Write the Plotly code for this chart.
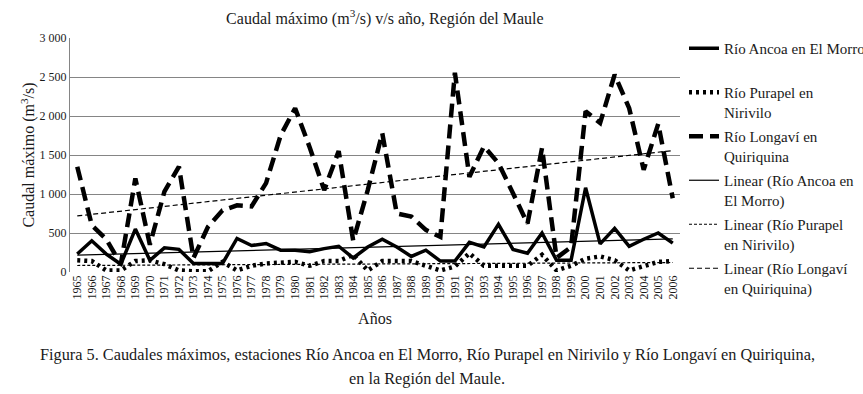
import numpy as np
import plotly.graph_objects as go

years = [str(y) for y in range(1965, 2007)]

ancoa = [230, 400, 230, 100, 550, 150, 310, 290, 110, 110, 110, 430, 340, 365, 280, 280, 260, 300, 330, 180, 320,
         420, 320, 200, 280, 140, 140, 380, 320, 610, 290, 240, 500, 150, 150, 1080, 360, 560, 330, 420, 500, 370]
purapel = [150, 140, 20, 20, 140, 150, 100, 20, 10, 10, 130, 20, 80, 110, 120, 130, 80, 140, 140, 220, 20,
           140, 140, 140, 80, 20, 70, 240, 80, 80, 80, 80, 220, 20, 80, 170, 200, 150, 20, 80, 130, 140]
longavi = [1350, 600, 420, 100, 1200, 350, 1030, 1350, 180, 580, 790, 855, 840, 1140, 1750, 2100, 1600, 1050, 1550,
           400, 1050, 1780, 750, 710, 540, 450, 2555, 1220, 1610, 1395, 1010, 620, 1590, 180, 320, 2060, 1910, 2530,
           2100, 1310, 1900, 945]

ytick_vals = [0, 500, 1000, 1500, 2000, 2500, 3000]
ytick_text = ["0", "500", "1 000", "1 500", "2 000", "2 500", "3 000"]

names = ["Río Ancoa en El Morro<br>&nbsp;", "Río Purapel en<br>Nirivilo", "Río Longaví en<br>Quiriquina"]
trend_names = ["Linear (Río Ancoa en<br>El Morro)", "Linear (Río Purapel<br>en Nirivilo)",
               "Linear (Río Longaví<br>en Quiriquina)"]

SERIF = "Liberation Serif"
TXT = "#1a1a1a"


def trend(vals):
    idx = np.arange(len(vals))
    m, b = np.polyfit(idx, vals, 1)
    return list(m * idx + b)


fig = go.Figure()
styles = [dict(width=3.5, dash="solid"), dict(width=4.5, dash="3px,4px"), dict(width=4.5, dash="14px,7px")]
tstyles = [dict(width=1.2, dash="solid"), dict(width=1.2, dash="3px,2px"), dict(width=1.2, dash="5px,3px")]

for i, (vals, nm) in enumerate(zip([ancoa, purapel, longavi], names)):
    fig.add_trace(go.Scatter(x=years, y=vals, mode="lines", name=nm, legendgroup=f"g{i}",
                             line=dict(color="black", **styles[i])))
for i, (vals, nm) in enumerate(zip([ancoa, purapel, longavi], trend_names)):
    fig.add_trace(go.Scatter(x=years, y=trend(vals), mode="lines", name=nm, legendgroup=f"t{i}",
                             line=dict(color="black", **tstyles[i])))

fig.update_layout(
    width=863, height=394,
    margin=dict(l=70, r=183, t=38, b=122, autoexpand=False),
    paper_bgcolor="white", plot_bgcolor="white",
    font=dict(family=SERIF, color=TXT),
    title=dict(text="Caudal máximo (m<sup>3</sup>/s) v/s año, Región del Maule",
               x=0.446, xref="container", xanchor="center", y=1 - 18 / 394, yref="container", yanchor="middle",
               font=dict(size=16, family=SERIF, color=TXT)),
    xaxis=dict(type="category", range=[-0.5, 41.5], tickangle=-90, tickfont=dict(size=12, family=SERIF),
               showgrid=False, showline=False, ticks="", zeroline=False, automargin=False,
               title=dict(text="Años", font=dict(size=16, family=SERIF), standoff=14)),
    yaxis=dict(range=[0, 3000], tickvals=ytick_vals, ticktext=ytick_text, tickfont=dict(size=12, family=SERIF),
               showgrid=True, gridcolor="#858585", gridwidth=1.3, showline=True, linecolor="#858585",
               linewidth=1.3, zeroline=False, ticks="", automargin=False,
               title=dict(text="Caudal máximo (m<sup>3</sup>/s)", font=dict(size=16, family=SERIF), standoff=0)),
    legend=dict(x=684 / 863, xref="container", xanchor="left", y=1 - 32 / 394, yref="container", yanchor="top",
                font=dict(size=15, family=SERIF, color=TXT), valign="top", maxheight=390,
                tracegroupgap=2, itemwidth=30, bgcolor="rgba(0,0,0,0)"),
    showlegend=True,
)

fig.add_annotation(text="Figura 5. Caudales máximos, estaciones Río Ancoa en El Morro, Río Purapel en Nirivilo y "
                        "Río Longaví en Quiriquina,",
                   xref="paper", yref="paper", x=(427 - 70) / 610, y=(272 - 354) / 234,
                   xanchor="center", yanchor="middle", showarrow=False,
                   font=dict(size=16.3, family=SERIF, color=TXT))
fig.add_annotation(text="en la Región del Maule.",
                   xref="paper", yref="paper", x=(427 - 70) / 610, y=(272 - 378) / 234,
                   xanchor="center", yanchor="middle", showarrow=False,
                   font=dict(size=16.3, family=SERIF, color=TXT))

fig.write_html("out.html", config={"displayModeBar": False},
               post_script="document.body.style.margin='0';document.body.style.overflow='hidden';")
